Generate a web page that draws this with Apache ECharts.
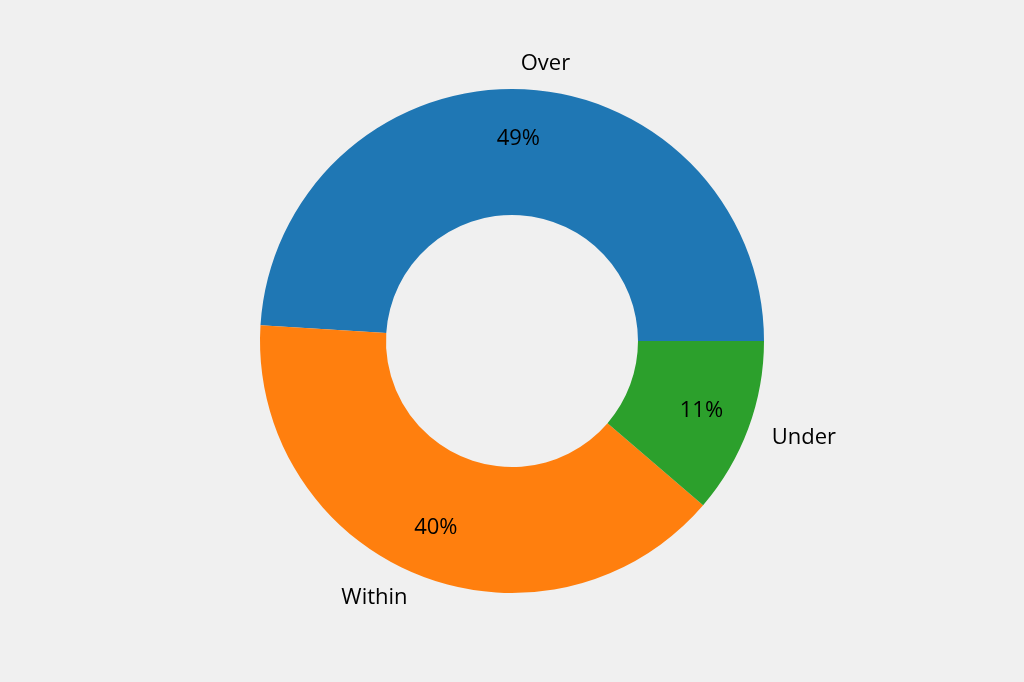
<!DOCTYPE html>
<html><head><meta charset="utf-8">
<script src="https://cdn.jsdelivr.net/npm/echarts@6/dist/echarts.min.js"></script>
<style>html,body{margin:0;padding:0;background:#f0f0f0;}#c{width:1024px;height:682px;}</style>
</head><body><div id="c"></div>
<script>
const categories = ['Over', 'Within', 'Under'];
const values = [49, 39.7, 11.3];
const colors = ['#1f77b4', '#ff7f0e', '#2ca02c'];

const chart = echarts.init(document.getElementById('c'), null, {renderer: 'canvas'});
const total = values.reduce((a, b) => a + b, 0);
const data = categories.map((c, i) => ({name: c, value: values[i], itemStyle: {color: colors[i]}}));
const font = '"Open Sans", Inter, sans-serif';
chart.setOption({
  backgroundColor: '#f0f0f0',
  animation: false,
  series: [
    {
      type: 'pie',
      center: [512, 341],
      radius: [126, 252],
      startAngle: 0,
      clockwise: false,
      avoidLabelOverlap: false,
      silent: true,
      data: data,
      label: {
        position: 'outside',
        formatter: '{b}',
        fontSize: 22,
        fontFamily: font,
        color: '#000',
        distanceToLabelLine: 0
      },
      labelLine: {show: false, length: 25, length2: 0}
    },
    {
      type: 'pie',
      center: [512, 341],
      radius: [146, 252],
      startAngle: 0,
      clockwise: false,
      avoidLabelOverlap: false,
      silent: true,
      data: categories.map((c, i) => ({name: c, value: values[i], itemStyle: {color: 'rgba(0,0,0,0)'}})),
      label: {
        position: 'inside',
        formatter: p => Math.round(p.value / total * 100) + '%',
        fontSize: 22,
        fontFamily: font,
        color: '#000'
      },
      labelLine: {show: false}
    }
  ]
});
</script></body></html>
